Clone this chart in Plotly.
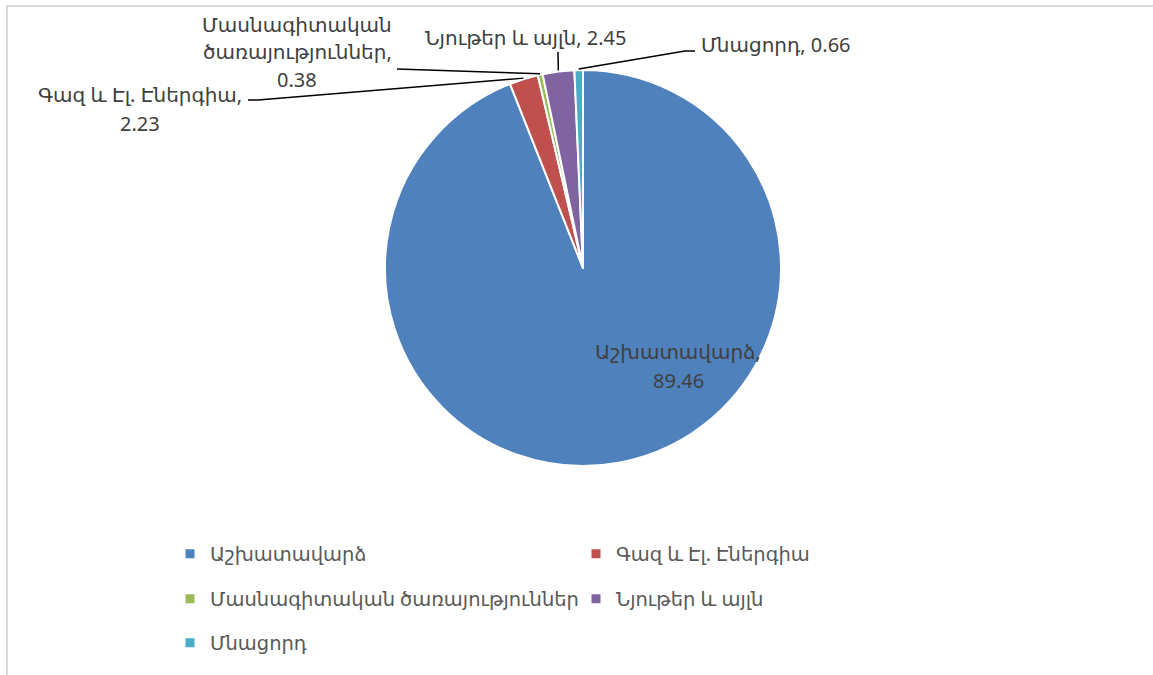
import math
import plotly.graph_objects as go

W, H = 1153, 675

labels = ["Աշխատավարձ", "Գազ և Էլ. Էներգիա", "Մասնագիտական ծառայություններ", "Նյութեր և այլն", "Մնացորդ"]
values = [89.46, 2.23, 0.38, 2.45, 0.66]
colors = ["#4f81bd", "#c0504d", "#9bbb59", "#8064a2", "#4bacc6"]

# data-label line breaks (as in the reference)
label_lines = [
    ["Աշխատավարձ,", "89.46"],
    ["Գազ և Էլ. Էներգիա,", "2.23"],
    ["Մասնագիտական", "ծառայություններ,", "0.38"],
    ["Նյութեր և այլն, 2.45"],
    ["Մնացորդ, 0.66"],
]
# label placement (px): center x, first line y
label_pos = [(678, 352), (140, 95), (297, 24), (525, 38), (776, 44)]
# leader-line starting points (px), None = no leader
leader_start = [None, [(248, 100), (258, 100)], [(397, 69)], [(558, 52)], [(695, 51), (685, 51)]]
# legend row of each category
legend_row = [0, 0, 1, 1, 2]
legend_row_y = [554, 599, 643]

FONT = "Noto Sans, DejaVu Sans, sans-serif"
TXT = "#404040"

cx, cy, r = 583, 268, 198

def px(x):
    return x / W

def py(y):
    return 1 - y / H

fig = go.Figure(go.Pie(
    labels=labels,
    values=values,
    sort=False,
    direction="clockwise",
    rotation=0,
    marker=dict(colors=colors, line=dict(color="white", width=2)),
    textinfo="none",
    hoverinfo="label+value",
    showlegend=False,
    domain=dict(x=[px(cx - r), px(cx + r)], y=[py(cy + r), py(cy - r)]),
))

# legend entries (one per category, arranged in rows like the reference)
legend_names = ["legend", "legend2", "legend3"]
for lab, col, row in zip(labels, colors, legend_row):
    fig.add_trace(go.Scatter(
        x=[None], y=[None], mode="markers", name=lab,
        marker=dict(symbol="square", size=9, color=col),
        legend=legend_names[row], hoverinfo="skip"))

annotations = []
shapes = []
LINE_H = 28
for lines, (x, y) in zip(label_lines, label_pos):
    for i, t in enumerate(lines):
        annotations.append(dict(
            x=px(x), y=py(y + i * LINE_H), xref="paper", yref="paper",
            text=t, showarrow=False, xanchor="center", yanchor="middle",
            font=dict(family=FONT, size=20, color=TXT)))

total = sum(values)
cum = 0.0
for v, start in zip(values, leader_start):
    mid = (cum + v / 2) / total * 2 * math.pi
    cum += v
    if start is None:
        continue
    ex = cx + (r + 1) * math.sin(mid)
    ey = cy - (r + 1) * math.cos(mid)
    pts = list(start) + [(ex, ey)]
    path = "M " + " L ".join(f"{px(a):.5f},{py(b):.5f}" for a, b in pts)
    shapes.append(dict(type="path", xref="paper", yref="paper", path=path,
                       line=dict(color="black", width=1.5)))

# chart area border (top / left visible)
shapes.append(dict(type="rect", xref="paper", yref="paper",
                   x0=px(7), x1=1.05, y0=-0.05, y1=py(6),
                   line=dict(color="#d9d9d9", width=2)))

leg_common = dict(orientation="h", x=px(170), xanchor="left", yanchor="middle",
                  entrywidth=361, entrywidthmode="pixels",
                  font=dict(family=FONT, size=19.5, color="#595959"),
                  bgcolor="rgba(0,0,0,0)")

fig.update_layout(
    width=W, height=H,
    margin=dict(l=0, r=0, t=0, b=0, autoexpand=False),
    paper_bgcolor="white",
    plot_bgcolor="white",
    showlegend=True,
    xaxis=dict(visible=False),
    yaxis=dict(visible=False),
    legend=dict(y=py(legend_row_y[0]), **leg_common),
    legend2=dict(y=py(legend_row_y[1]), **leg_common),
    legend3=dict(y=py(legend_row_y[2]), **leg_common),
    annotations=annotations,
    shapes=shapes,
)

fig.write_html("out.html", config={"displayModeBar": False},
               post_script="document.body.style.margin='0';")
